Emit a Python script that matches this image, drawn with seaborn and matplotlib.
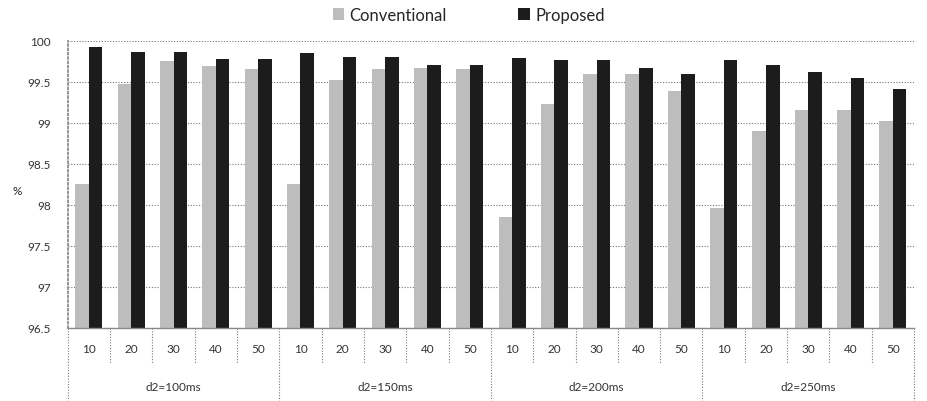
import numpy as np
import pandas as pd
import matplotlib
matplotlib.use("Agg")
import matplotlib.pyplot as plt
import seaborn as sns
from matplotlib.patches import Patch
from matplotlib.lines import Line2D

# Delay groups and packet intervals
groups = ["d2=100ms", "d2=150ms", "d2=200ms", "d2=250ms"]
intervals = ["10", "20", "30", "40", "50"]
series = ["Conventional", "Proposed"]

conventional = [98.26, 99.47, 99.75, 99.69, 99.66,
                98.25, 99.52, 99.66, 99.67, 99.66,
                97.85, 99.23, 99.59, 99.59, 99.39,
                97.96, 98.90, 99.16, 99.16, 99.02]
proposed = [99.93, 99.86, 99.86, 99.78, 99.78,
            99.85, 99.80, 99.80, 99.71, 99.71,
            99.79, 99.76, 99.77, 99.67, 99.59,
            99.77, 99.71, 99.62, 99.55, 99.41]

y_ticks = [96.5, 97, 97.5, 98, 98.5, 99, 99.5, 100]
y_labels = ["96.5", "97", "97.5", "98", "98.5", "99", "99.5", "100"]

sns.set_theme(style="white")
plt.rcParams["font.family"] = ["Lato", "DejaVu Sans"]

keys = [f"{g}|{i}" for g in groups for i in intervals]
df = pd.DataFrame({
    "key": keys * 2,
    "series": [series[0]] * len(keys) + [series[1]] * len(keys),
    "value": conventional + proposed,
})

fig = plt.figure(figsize=(9.28, 4.02), dpi=100)
ax = fig.add_axes([0.073, 0.182, 0.912, 0.714])

palette = {"Conventional": "#bdbdbd", "Proposed": "#1c1c1c"}
sns.barplot(data=df, x="key", y="value", hue="series", order=keys,
            hue_order=series, palette=palette, width=0.64, gap=0.0,
            saturation=1, ax=ax, legend=False, edgecolor="none")

ax.set_ylim(96.5, 100)
ax.set_xlim(-0.5, len(keys) - 0.5)
ax.set_yticks(y_ticks)
ax.set_yticklabels(y_labels, fontsize=8.5, color="#333333")
ax.tick_params(axis="y", length=0, pad=12)
ax.set_xticks([])
ax.set_xlabel("")
ax.set_ylabel("%", rotation=0, fontsize=8.5, color="#222222")
ax.yaxis.set_label_coords(-0.06, 0.46)

for y in y_ticks:
    ax.axhline(y, color="#777777", lw=0.8, ls=(0, (1, 1.5)), zorder=0)
for s in ["top", "right"]:
    ax.spines[s].set_visible(False)
ax.spines["left"].set_color("#888888")
ax.spines["left"].set_linestyle((0, (1, 1.5)))
ax.spines["bottom"].set_color("#888888")
ax.spines["bottom"].set_linewidth(1.0)

# Two-level category axis drawn below the plot
trans = ax.get_xaxis_transform()
n_int = len(intervals)
for k in range(len(keys) + 1):
    is_group_edge = (k % n_int == 0)
    y_end = -0.255 if is_group_edge else -0.125
    ax.add_line(Line2D([k - 0.5, k - 0.5], [0, y_end], transform=trans,
                       color="#777777", lw=0.8, ls=(0, (1, 1.5)),
                       clip_on=False))
for k, key in enumerate(keys):
    ax.text(k, -0.073, key.split("|")[1], transform=trans, ha="center",
            va="center", fontsize=8.5, color="#333333")
for gi, g in enumerate(groups):
    ax.text(gi * n_int + (n_int - 1) / 2, -0.206, g, transform=trans,
            ha="center", va="center", fontsize=8.5, color="#333333")

handles = [Patch(facecolor=palette[s], edgecolor="none", label=s) for s in series]
fig.legend(handles=handles, loc="center", bbox_to_anchor=(0.505, 0.96),
           ncol=2, frameon=False, fontsize=12, handlelength=0.7,
           handleheight=0.7, handletextpad=0.3, columnspacing=4.3)

fig.savefig("out.png", dpi=100, facecolor="white")
